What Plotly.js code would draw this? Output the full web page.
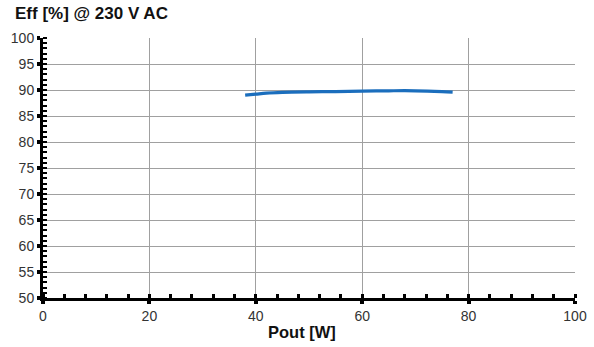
<!DOCTYPE html>
<html><head><meta charset="utf-8">
<script src="https://cdn.plot.ly/plotly-3.0.1.min.js"></script>
<style>body{margin:0;background:#fff}#c{width:594px;height:347px}</style>
</head><body><div id="c"></div>
<script>
const pout = [38, 40, 42, 45, 50, 55, 60, 65, 70, 75, 77];
const eff = [89.0, 89.2, 89.4, 89.55, 89.65, 89.7, 89.8, 89.85, 89.85, 89.7, 89.6];
const xTicks = [0, 20, 40, 60, 80, 100];
const yTicks = [50, 55, 60, 65, 70, 75, 80, 85, 90, 95, 100];

const trace = {x: pout, y: eff, type: 'scatter', mode: 'lines', line: {color: '#1b6ebd', width: 3.2, shape: 'spline'}, hoverinfo: 'none'};
const fam = 'Liberation Sans, Arial, sans-serif';
const tf = {family: fam, size: 14, color: '#333'};
const layout = {
  width: 594, height: 347,
  margin: {l: 43, r: 19, t: 38, b: 49},
  paper_bgcolor: '#fff', plot_bgcolor: '#fff',
  showlegend: false,
  title: {text: '<b>Eff [%] @ 230 V AC</b>', x: 15/594, xanchor: 'left', y: 1 - 13.5/347, yanchor: 'middle', font: {family: fam, size: 17, color: '#111'}},
  annotations: [{text: '<b>Pout [W]</b>', xref: 'paper', yref: 'paper', x: (302 - 43) / 532, y: -(332 - 298) / 260, xanchor: 'center', yanchor: 'middle', showarrow: false, font: {family: fam, size: 16.5, color: '#111'}}],
  xaxis: {
    range: [0, 100], tickvals: xTicks, ticktext: xTicks.map(String), tickfont: tf,
    showgrid: true, gridcolor: '#a0a0a0', gridwidth: 1, zeroline: false,
    showline: true, linecolor: '#000', linewidth: 3,
    ticks: 'outside', ticklen: 3, tickwidth: 4, tickcolor: '#000',
    minor: {dtick: 4, ticks: 'inside', ticklen: 4, tickwidth: 3, tickcolor: '#000', showgrid: false},
    fixedrange: true
  },
  yaxis: {
    range: [50, 100], tickvals: yTicks, ticktext: yTicks.map(String), tickfont: tf,
    showgrid: true, gridcolor: '#a0a0a0', gridwidth: 1, zeroline: false,
    showline: true, linecolor: '#000', linewidth: 3,
    ticks: 'outside', ticklen: 3, tickwidth: 4, tickcolor: '#000',
    minor: {dtick: 1, ticks: 'inside', ticklen: 4, tickwidth: 2, tickcolor: '#000', showgrid: false},
    fixedrange: true
  }
};
Plotly.newPlot('c', [trace], layout, {displayModeBar: false, staticPlot: true});
</script></body></html>
